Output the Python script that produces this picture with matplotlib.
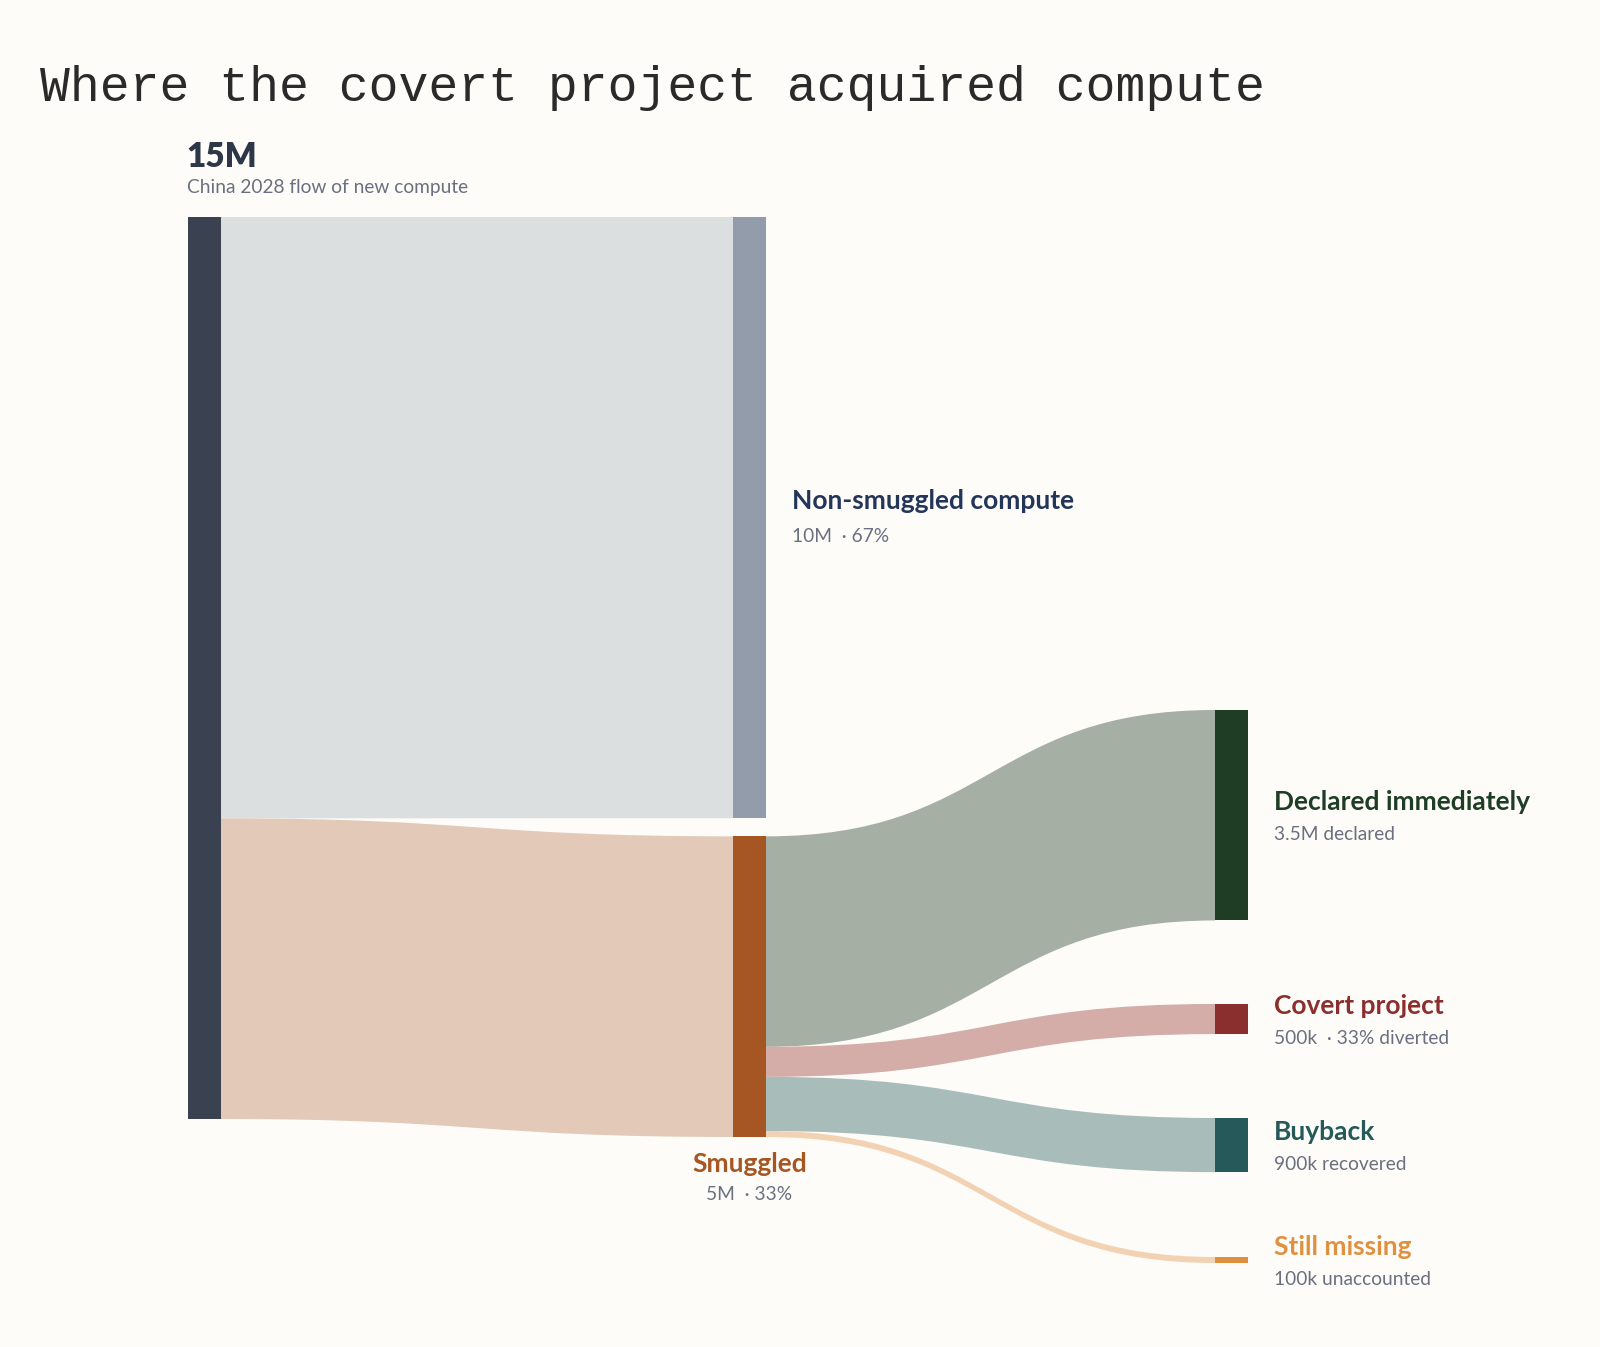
import matplotlib.pyplot as plt
from matplotlib.path import Path
from matplotlib.patches import PathPatch, Rectangle

# data (millions of units)
total = 15.0
first_split = ["Non-smuggled compute", "Smuggled"]
first_values = [10.0, 5.0]
targets = ["Declared immediately", "Covert project", "Buyback", "Still missing"]
target_values = [3.5, 0.5, 0.9, 0.1]
target_subs = ["3.5M declared", "500k  · 33% diverted", "900k recovered", "100k unaccounted"]

bg = "#fdfcf8"
node_col = {"src": "#3a4150", "non": "#939cab", "smug": "#a65623",
            "Declared immediately": "#1e3d24", "Covert project": "#8b2e2e",
            "Buyback": "#265a5a", "Still missing": "#e0913f"}
link_col = {"non": "#dcdfe0", "smug": "#e3cab8",
            "Declared immediately": "#a5afa4", "Covert project": "#d4aca8",
            "Buyback": "#a8bdba", "Still missing": "#f3d2b3"}
label_col = {"Declared immediately": "#1e3d24", "Covert project": "#8b2e2e",
             "Buyback": "#265a5a", "Still missing": "#e0913f"}
gray = "#6b7080"

W, H = 1600, 1347
fig = plt.figure(figsize=(W / 100, H / 100), dpi=100, facecolor=bg)
ax = fig.add_axes([0, 0, 1, 1])
ax.set_xlim(0, W)
ax.set_ylim(H, 0)
ax.axis("off")
ax.set_facecolor(bg)

# layout
k = 902 / total          # px per million
nw = 33                  # node width
x_src, x_mid, x_tgt = 188, 733, 1215
top0 = 217
gap = 18
tgt_tops = [710, 1004, 1118, 1257]


def ribbon(x0, y0a, y0b, x1, y1a, y1b, color):
    xm = (x0 + x1) / 2
    verts = [(x0, y0a), (xm, y0a), (xm, y1a), (x1, y1a),
             (x1, y1b), (xm, y1b), (xm, y0b), (x0, y0b), (x0, y0a)]
    codes = [Path.MOVETO, Path.CURVE4, Path.CURVE4, Path.CURVE4,
             Path.LINETO, Path.CURVE4, Path.CURVE4, Path.CURVE4, Path.CLOSEPOLY]
    ax.add_patch(PathPatch(Path(verts, codes), fc=color, ec="none", zorder=1))


def node(x, y, h, color):
    ax.add_patch(Rectangle((x, y), nw, h, fc=color, ec="none", zorder=3))


# first stage
h_non = first_values[0] * k
h_smug = first_values[1] * k
non_top = top0
smug_top = top0 + h_non + gap
ribbon(x_src + nw, top0, top0 + h_non, x_mid, non_top, non_top + h_non, link_col["non"])
ribbon(x_src + nw, top0 + h_non, top0 + total * k, x_mid, smug_top, smug_top + h_smug,
       link_col["smug"])

# second stage
y = smug_top
for name, v, t in zip(targets, target_values, tgt_tops):
    h = v * k
    ribbon(x_mid + nw, y, y + h, x_tgt, t, t + h, link_col[name])
    y += h

node(x_src, top0, total * k, node_col["src"])
node(x_mid, non_top, h_non, node_col["non"])
node(x_mid, smug_top, h_smug, node_col["smug"])
for name, v, t in zip(targets, target_values, tgt_tops):
    node(x_tgt, t, max(v * k, 4), node_col[name])

fam = ["Lato", "DejaVu Sans"]

# title
ax.text(40, 88, "Where the covert project acquired compute", family="Liberation Mono",
        fontsize=35.8, color="#2a2a2a", va="center", ha="left")

ax.text(186, 157, "15M", family=fam, fontweight="heavy", fontsize=24, color="#2d3748",
        va="center", ha="left")
ax.text(187, 188, "China 2028 flow of new compute", family=fam, fontsize=13.8,
        color=gray, va="center", ha="left")

ax.text(792, 501, first_split[0], family=fam, fontweight="bold", fontsize=19,
        color="#23365a", va="center", ha="left")
ax.text(792, 536, "10M  · 67%", family=fam, fontsize=13.8, color=gray,
        va="center", ha="left")

ax.text(x_mid + nw / 2, 1164, first_split[1], family=fam, fontweight="bold", fontsize=19,
        color="#a65623", va="center", ha="center")
ax.text(x_mid + nw / 2, 1195, "5M  · 33%", family=fam, fontsize=13.8, color=gray,
        va="center", ha="center")

for name, sub, t, v in zip(targets, target_subs, tgt_tops, target_values):
    cy = t + v * k / 2
    ax.text(1274, cy - 13, name, family=fam, fontweight="bold", fontsize=19,
            color=label_col[name], va="center", ha="left")
    ax.text(1274, cy + 19, sub, family=fam, fontsize=13.8, color=gray,
            va="center", ha="left")

fig.savefig("out.png", dpi=100, facecolor=bg)
